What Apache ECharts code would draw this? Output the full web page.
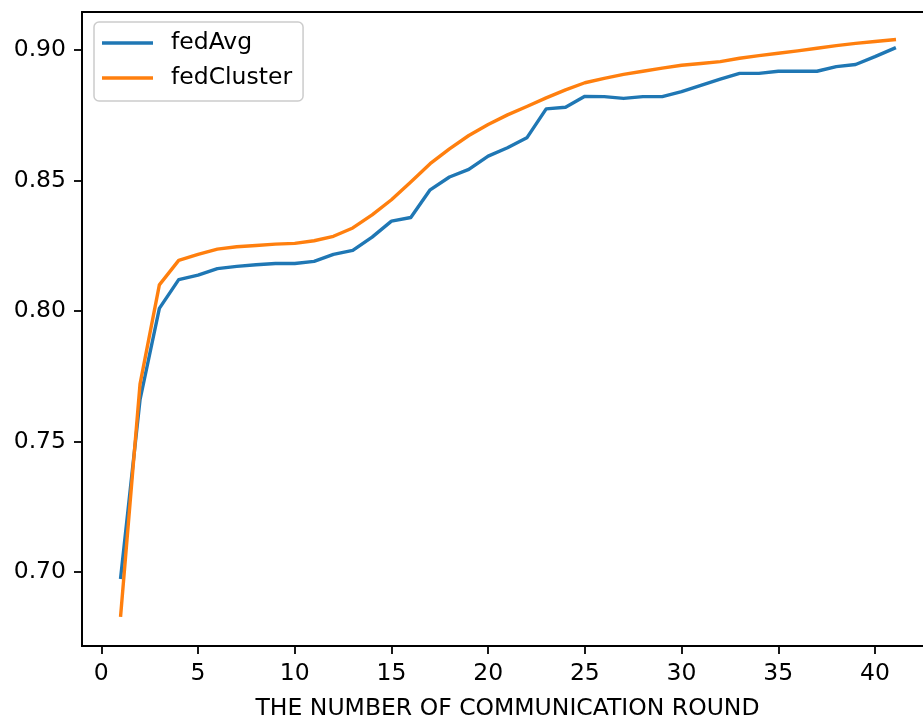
<!DOCTYPE html>
<html>
<head>
<meta charset="utf-8">
<script src="https://cdn.jsdelivr.net/npm/echarts@6/dist/echarts.min.js"></script>
<style>html,body{margin:0;padding:0;background:#fff;}#c{width:923px;height:718px;}</style>
</head>
<body>
<div id="c"></div>
<script>
const rounds = [1,2,3,4,5,6,7,8,9,10,11,12,13,14,15,16,17,18,19,20,21,22,23,24,25,26,27,28,29,30,31,32,33,34,35,36,37,38,39,40,41];
const fedAvg = [0.698,0.766,0.801,0.812,0.8137,0.8162,0.8171,0.8177,0.8182,0.8182,0.8190,0.8217,0.8232,0.8283,0.8344,0.8358,0.8464,0.8513,0.8542,0.8593,0.8625,0.8663,0.8774,0.8780,0.8822,0.8821,0.8814,0.8821,0.8821,0.8840,0.8864,0.8888,0.8910,0.8910,0.8918,0.8918,0.8918,0.8936,0.8944,0.8974,0.9006];
const fedCluster = [0.6835,0.772,0.810,0.8194,0.8217,0.8237,0.8246,0.8251,0.8256,0.8259,0.8269,0.8286,0.8318,0.8368,0.8426,0.8494,0.8564,0.8621,0.8672,0.8714,0.8751,0.8783,0.8816,0.8847,0.8874,0.8891,0.8906,0.8918,0.8930,0.8941,0.8948,0.8955,0.8968,0.8978,0.8987,0.8996,0.9006,0.9016,0.9025,0.9032,0.9039];
const xTicks = [0,5,10,15,20,25,30,35,40];
const yTicks = [0.70,0.75,0.80,0.85,0.90];
const seriesNames = ['fedAvg','fedCluster'];
const xLabel = 'THE NUMBER OF COMMUNICATION ROUND';

const FONT = 'DejaVu Sans';
const FS = 23.5;
const chart = echarts.init(document.getElementById('c'), null, {renderer:'canvas'});
const tickStyle = {show:true, inside:false, length:8, lineStyle:{color:'#000', width:1.8}};
chart.setOption({
  animation:false,
  backgroundColor:'#fff',
  grid:{left:82, right:-10, top:12, bottom:72, outerBoundsMode:'none', containLabel:false,
        show:true, borderColor:'#000', borderWidth:1.8, backgroundColor:'transparent'},
  legend:{
    left:94, top:22, orient:'vertical',
    padding:[8,11,10,8],
    itemWidth:51, itemHeight:3.4, itemGap:9,
    icon:'rect',
    borderColor:'#cccccc', borderWidth:1.5, borderRadius:5,
    backgroundColor:'rgba(255,255,255,0.8)',
    textStyle:{fontFamily:FONT, fontSize:FS, color:'#000', lineHeight:26, padding:[0,0,0,13]},
    data:seriesNames
  },
  xAxis:{
    type:'value', min:-1, max:43,
    name:xLabel, nameLocation:'middle', nameGap:51,
    nameTextStyle:{fontFamily:FONT, fontSize:FS, color:'#000'},
    axisLine:{show:true, onZero:false, lineStyle:{color:'#000', width:1.8}},
    axisTick:Object.assign({customValues:xTicks}, tickStyle),
    splitLine:{show:false},
    axisLabel:{customValues:xTicks, fontFamily:FONT, fontSize:FS, color:'#000', margin:16, formatter:v=>String(v)}
  },
  yAxis:{
    type:'value', min:0.6717, max:0.9145,
    axisLine:{show:true, onZero:false, lineStyle:{color:'#000', width:1.8}},
    axisTick:Object.assign({customValues:yTicks}, tickStyle),
    splitLine:{show:false},
    axisLabel:{customValues:yTicks, fontFamily:FONT, fontSize:FS, color:'#000', margin:16, formatter:v=>v.toFixed(2)}
  },
  series:[
    {name:seriesNames[0], type:'line', data:rounds.map((r,i)=>[r,fedAvg[i]]), showSymbol:false, symbol:'none',
     lineStyle:{color:'#1f77b4', width:3.4, cap:'square', join:'round'}, itemStyle:{color:'#1f77b4'}},
    {name:seriesNames[1], type:'line', data:rounds.map((r,i)=>[r,fedCluster[i]]), showSymbol:false, symbol:'none',
     lineStyle:{color:'#ff7f0e', width:3.4, cap:'square', join:'round'}, itemStyle:{color:'#ff7f0e'}}
  ]
});
</script>
</body>
</html>
